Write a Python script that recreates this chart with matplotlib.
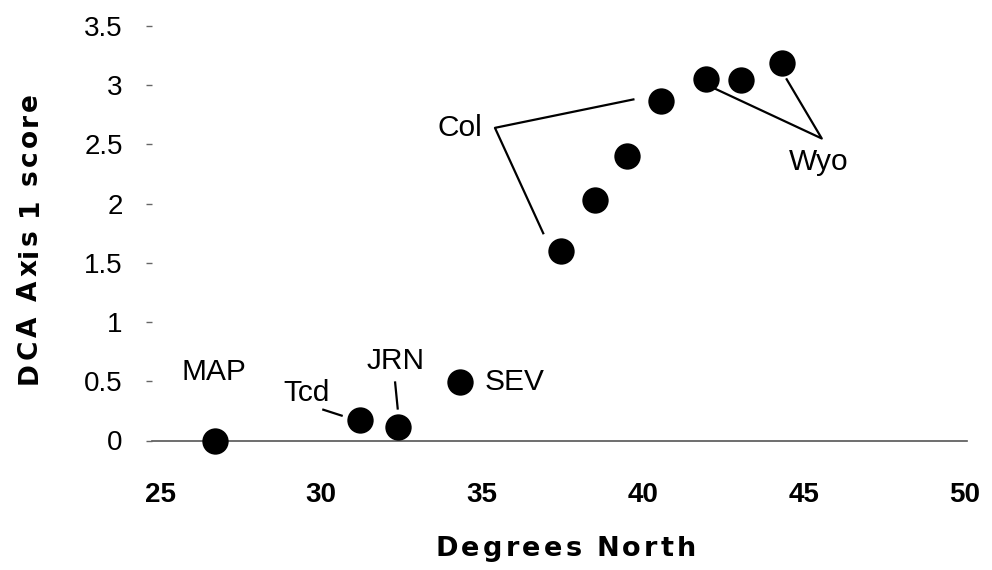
import matplotlib
matplotlib.use("Agg")
import matplotlib.pyplot as plt
from matplotlib.textpath import TextPath
from matplotlib.font_manager import FontProperties

# Data
lat = [26.7, 31.2, 32.4, 34.3, 37.45, 38.5, 39.5, 40.55, 41.95, 43.05, 44.3]
dca = [0.0, 0.17, 0.11, 0.49, 1.60, 2.03, 2.40, 2.87, 3.05, 3.04, 3.19]

xticks = [25, 30, 35, 40, 45, 50]
xtick_labels = ["25", "30", "35", "40", "45", "50"]
yticks = [0, 0.5, 1, 1.5, 2, 2.5, 3, 3.5]
ytick_labels = ["0", "0.5", "1", "1.5", "2", "2.5", "3", "3.5"]

# Site labels: (text, x, y, ha)
site_labels = [
    ("MAP", 26.66, 0.58, "center"),
    ("Tcd", 29.56, 0.40, "center"),
    ("JRN", 32.30, 0.67, "center"),
    ("SEV", 35.09, 0.49, "left"),
    ("Col", 34.32, 2.64, "center"),
    ("Wyo", 45.44, 2.35, "center"),
]
# Leader lines (x list, y list)
leaders = [
    ([30.07, 30.64], [0.26, 0.21]),
    ([32.30, 32.38], [0.49, 0.27]),
    ([39.70, 35.40, 36.90], [2.88, 2.64, 1.75]),
    ([42.24, 45.55, 44.46], [2.97, 2.55, 3.05]),
]

FAMILY = ['Liberation Sans', 'DejaVu Sans']
plt.rcParams['font.family'] = FAMILY

W, H = 992, 570
fig = plt.figure(figsize=(W / 100, H / 100), dpi=100)
left, right = 152 / W, 967 / W
bottom, top = 1 - 440.5 / H, 1 - 26 / H
ax = fig.add_axes([left, bottom, right - left, top - bottom])

ax.scatter(lat, dca, s=360, color="black", zorder=5, linewidths=0, clip_on=False)

for xs, ys in leaders:
    ax.plot(xs, ys, color="black", lw=1.6, zorder=4, clip_on=False)

for txt, x, y, ha in site_labels:
    ax.text(x, y, txt, ha=ha, va="center", fontsize=21.5, color="black")

ax.set_xlim(24.75, 50.06)
ax.set_ylim(0, 3.5)

for s in ["top", "right", "left"]:
    ax.spines[s].set_visible(False)
ax.spines["bottom"].set_color("#555555")
ax.spines["bottom"].set_linewidth(1.2)
ax.spines["bottom"].set_zorder(1)

ax.set_xticks(xticks)
ax.set_xticklabels(xtick_labels, fontsize=20, fontweight="bold")
ax.set_yticks(yticks)
ax.set_yticklabels(ytick_labels, fontsize=20)
ax.tick_params(axis="x", length=0, pad=30)
ax.tick_params(axis="y", length=4, width=1, color="#666666", pad=17)

TITLE_FAMILY = ['DejaVu Sans']


def spaced_text(s, cx_px, cy_px, size, tracking_px, vertical=False):
    """Draw bold text with extra letter spacing, centred at pixel (cx, cy)."""
    fp = FontProperties(family=TITLE_FAMILY, weight="bold", size=size)
    px_per_pt = 100 / 72.0
    ref = TextPath((0, 0), "l", prop=fp).get_extents().width
    widths = []
    for ch in s:
        if ch == " ":
            w = TextPath((0, 0), "a a", prop=fp).get_extents().width - \
                TextPath((0, 0), "aa", prop=fp).get_extents().width
        else:
            w = TextPath((0, 0), ch + "l", prop=fp).get_extents().width - ref
        widths.append(w * px_per_pt)
    total = sum(widths) + tracking_px * (len(s) - 1)
    pos = -total / 2
    for ch, w in zip(s, widths):
        c = pos + w / 2
        if vertical:
            fig.text(cx_px / W, 1 - (cy_px - c) / H, ch, ha="center", va="center",
                     rotation=90, fontproperties=fp)
        else:
            fig.text((cx_px + c) / W, 1 - cy_px / H, ch, ha="center", va="center",
                     fontproperties=fp)
        pos += w + tracking_px


spaced_text("Degrees North", 566, 549, 19.5, 2.5)
spaced_text("DCA Axis 1 score", 30, 238, 19, 2.0, vertical=True)

fig.savefig("out.png", dpi=100)
